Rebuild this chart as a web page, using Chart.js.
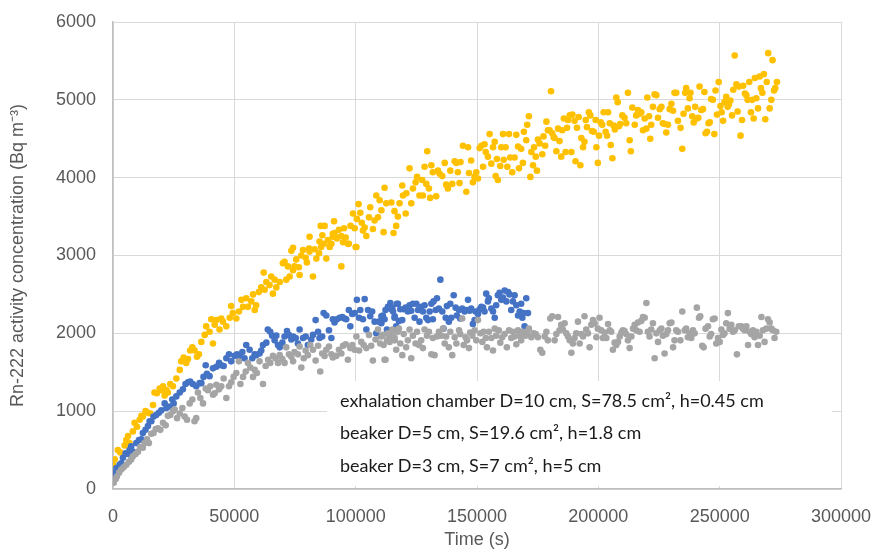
<!DOCTYPE html>
<html>
<head>
<meta charset="utf-8">
<script src="https://cdn.jsdelivr.net/npm/chart.js@4.4.0/dist/chart.umd.min.js"></script>
<style>
  html, body { margin: 0; padding: 0; background: #fff; }
</style>
</head>
<body>
<canvas id="myChart" width="875" height="551"></canvas>
<script>
// [time (s), Rn-222 activity concentration (Bq m-3)]
const chamberPoints = [
  [0,310],[700,380],[2000,500],[3000,470],[4800,560],[5500,630],[6200,680],[6800,590],[8200,740],[8900,850],
  [9900,800],[11000,890],[11700,940],[12300,930],[13400,1000],[14400,980],[15400,970],[16500,1080],[17100,1240],[18100,1230],
  [19200,1290],[19900,1270],[20600,1320],[21300,1200],[22000,1270],[22600,1240],[23600,1350],[24700,1320],[26100,1420],[27500,1530],
  [28100,1640],[29100,1690],[30200,1620],[30900,1670],[31800,1780],[32700,1820],[33600,1780],[34600,1700],[35400,1730],[36400,1890],
  [37800,1980],[38400,2090],[39800,2020],[40500,2180],[41200,1870],[41900,2110],[42600,2170],[43900,2050],[44600,2190],[45300,2150],
  [46700,2090],[48100,2200],[48700,2350],[49400,2260],[50800,2190],[51900,2280],[52900,2430],[53600,2340],[54900,2450],[55600,2340],
  [57000,2410],[57700,2500],[58400,2300],[59000,2360],[60100,2530],[61100,2590],[62100,2780],[62500,2560],[63200,2660],[64500,2620],
  [65200,2730],[65900,2510],[66600,2690],[67300,2590],[68700,2660],[70000,2900],[70700,2920],[71400,2690],[72100,2860],[72800,2730],
  [73500,3060],[74200,2810],[74800,2860],[75500,2950],[76600,2850],[76900,2750],[77600,3000],[78300,3070],[79400,2970],[79900,2910],
  [81000,3050],[82400,2730],[83100,3080],[83800,2960],[84900,3030],[85800,3110],[86800,3150],[87900,2960],[88600,3200],[89300,3120],
  [90600,3240],[91300,3290],[92300,3220],[94100,2860],[94800,3170],[96800,3150],[100300,3110],
  [74200,3100],[81000,3240],[80800,3090],[85100,3180],[85600,3380],[87200,3380],[86300,3260],[89300,3110],[90000,3150],[90600,3280],
  [91100,3440],[92300,3230],[93100,3330],[94100,3250],[95200,3350],[95900,3230],[97200,3150],[97900,3380],[98900,3540],[99600,3350],
  [100000,3110],[100500,3470],[101200,3660],[101900,3550],[102500,3420],[103000,3320],[103700,3360],[104400,3250],[105500,3490],[106000,3620],
  [107100,3340],[107800,3450],[108500,3770],[109200,3490],
  [111500,3300],[115600,3290],[116700,3380],[117400,3500],[120600,3540],[111900,3870],[109900,3710],[110600,3580],[112600,3670],[114700,3680],
  [116000,3570],[118100,3670],[119200,3900],[119500,3770],[120900,3800],[122200,4120],[122900,3670],[123600,3860],[124700,3940],[125300,4010],
  [126300,3770],[127400,3970],[127700,3770],[128400,4140],[129100,3920],[129500,4340],[130200,3860],[130700,3740],[131200,4160],[131800,4070],
  [133200,3760],[133900,4090],[134600,4050],[135700,4020],[136700,4190],[137300,3910],[138000,3860],[139000,4090],[139800,3920],[140800,4210],
  [141500,4190],[142100,4070],[142800,3930],[143200,4200],[144200,4410],[145600,3820],[146300,4390],[146700,4060],[147600,4220],[148300,3940],
  [149000,4010],[149700,4070],[150400,3990],[151100,4380],[151800,4410],[152500,4140],[153100,4430],[153600,4330],[154500,4270],[155200,4560],
  [155900,4180],[156600,4390],[157300,4460],[157700,4020],[158200,4240],[158600,3970],[159600,4150],[160000,4390],[160700,4560],[161000,4230],
  [161800,4390],[162500,4140],[163200,4560],[163700,4260],[164500,4070],[165500,4260],[166200,4550],[166900,4400],[167300,4120],[168200,4370],
  [168900,4190],[169300,4590],[170300,4480],[170700,4680],[171400,4790],[172000,4010],[172400,4330],[173100,4160],[173500,4390],[174200,4270],
  [174700,4090],[175100,4490],[175800,4440],[176900,4300],[177400,4530],[178100,4410],[178600,4720],[179200,4610],[179900,4610],[180500,5110],
  [181000,4570],[181600,4520],[182000,4510],[182700,4340],[183400,4630],[184000,4470],[184700,4270],[185100,4610],[185800,4760],[186500,4330],
  [187100,4640],[187500,4740],[188200,4800],[188900,4330],[189300,4810],[190200,4730],[190600,4210],[191200,4640],[191900,4780],[192600,4160],
  [193000,4510],[193700,4390],[194300,4460],[194800,4740],[195300,4650],[196100,4840],[196700,4800],[197400,4600],[198100,4590],[198900,4740],
  [199200,4390],[199800,4190],[200300,4540],[201000,4710],[201600,4680],[202200,4840],[203000,4590],[203600,4540],[204000,4840],[204700,4700],
  [205100,4420],[205800,4250],[206300,4670],[206800,4620],[207400,5030],[208000,4970],[208500,4660],[209000,4690],[209900,4800],[210800,4770],
  [211500,4700],[212200,5090],[212900,4480],[213400,4340],[214000,4900],[215000,4680],[215600,4800],[216300,4870],[217000,4820],[217700,4840],
  [218400,4610],[219100,4760],[219800,4630],[220200,5030],[220900,4790],[221400,4500],[221800,4680],[222500,4910],[223200,5070],[223900,5060],
  [224600,4770],[225300,4880],[226000,4910],[226600,4700],[227300,4690],[228000,4580],[228700,4680],[229400,4880],[230100,4950],[230800,4860],
  [231400,5090],[232100,5090],[232800,4730],
  [233900,4640],[234600,4370],[235100,4820],[235800,5090],[236200,5150],[236900,4890],[237600,5020],[238000,5090],[238700,4790],[239300,4710],
  [239900,4910],[240600,4760],[241200,4770],[241700,5170],[242400,4870],[243100,4880],[243700,5100],[244200,4570],[244800,4590],[245400,4700],
  [245900,4710],[246500,5010],[247200,5000],[247800,4560],[248300,5120],[248900,4810],[249600,5230],[250300,4920],[250800,4840],[251400,4730],
  [252000,4970],[252700,5040],[253300,4910],[253800,4940],[254400,4990],[255100,4800],[255600,5130],[256200,5570],[256900,5200],[257400,4850],
  [257900,5170],[258600,4540],[259200,4740],[259700,5180],[260400,5080],[261000,5060],[261500,5000],[262200,5230],[262900,4840],[263400,5000],
  [264000,4760],[264500,5280],[265100,5020],[265800,4890],[266500,5300],[267000,5150],[267600,5090],[268200,5330],[268800,4750],[269400,5230],
  [270000,5600],[270600,4890],[271300,5000],[271800,5510],[272400,5120],[272900,5150],[273600,5230]
];

const beaker5Points = [
  [0,140],[700,210],[1400,270],[2700,310],[3400,330],[4100,400],[5200,460],[6200,450],[6800,500],[7500,550],
  [8200,480],[9600,590],[10700,630],[11700,640],[12300,720],[13400,760],[14400,810],[15100,870],[15800,870],[16700,930],
  [17800,950],[18900,980],[19900,1010],[21300,1100],[22000,1040],[23300,1060],[24400,1150],[25000,1100],[26100,1190],[27500,1240],
  [28800,1280],[29900,1350],[30900,1370],[31800,1380],[32900,1350],[34300,1320],[35700,1360],[36400,1360],[37300,1440],[38200,1590],
  [38700,1480],[39800,1450],[41200,1550],[42600,1570],[43700,1620],[44600,1590],[45600,1580],[46700,1680],[47800,1730],[48700,1640],
  [50100,1710],[51100,1730],[52200,1700],[53300,1760],[54200,1680],[54900,1850],[56300,1790],[57400,1680],[58400,1730],[59000,1720],
  [60400,1740],[61100,1780],[61800,1850],[63200,1880],[63800,2050],[64800,2020],[65600,1970],[66600,1910],[67300,1970],[68000,1850],
  [68700,1820],[69800,1880],[70700,1960],[71700,2030],[72500,1980],[73500,1920],[74200,1960],[75300,1940],[76200,1870],[76900,2050],
  [78300,1940],[79400,1960],[80300,1850],[81700,1920],[82400,1980],[83500,2170],[84500,2020],[85100,1940],[86200,1960],[86800,2260],
  [87900,2230],[89000,2040],[90000,1940],[90600,2180],[91300,2140],[92300,2180],[93400,2200],[94500,2210],[95400,2190],[96100,2180],
  [97200,2300],[97800,2090],[98600,2250],[99600,2260],[100500,2430],[101400,2200],[101900,2300],[103000,2180],[103700,2440],[104400,2050],
  [105100,2300],[106000,2220],[106800,2280],[107800,2150],[108500,2000],[109600,2150],[110600,2220],[111200,2190],[112300,2300],[113300,2340],
  [114300,2390],[115100,2330],[116100,2220],[116700,2090],[117400,2380],
  [110600,2130],[111200,2230],[111900,2180],[112900,2050],[113700,2330],[114700,2310],[115400,2280],[116000,2200],[117000,2380],[117800,2160],
  [118400,2310],[119200,2170],[119800,2310],[120600,2330],[121500,2280],[122200,2360],[122900,2290],[123600,2380],[124300,2200],[125000,2380],
  [125700,2300],[126300,2150],[127000,2340],[127700,2280],[128400,2360],[129100,2200],[129800,2170],[130500,2280],[131200,2380],[131800,2180],
  [132100,2410],[133000,2300],[133500,2450],[134300,2320],[134900,2690],[135700,2280],[136200,2060],[137100,2200],[137600,2350],[138400,2150],
  [139000,2380],[139400,2200],[140400,2490],[141200,2330],[141700,2230],[142600,2300],[143100,2190],[143900,2320],[144900,2280],[145600,2300],
  [146300,2430],[147000,2290],[147600,2320],[148300,2120],[149000,2170],[149400,2280],[150400,2250],[151100,2310],[151800,2340],[152500,2330],
  [153100,2280],[153800,2510],[154500,2410],[154900,2450],[155900,2320],[156600,2280],[157300,2200],[157900,2360],[158600,2490],[159300,2520],
  [160000,2430],[160700,2460],[161400,2550],[162100,2410],[162800,2530],[163400,2500],[164100,2300],[164800,2410],[165500,2490],[166200,2360],
  [166900,2230],[167600,2280],[168200,2380],[168700,2200],[169200,2260],[169600,2090],[170300,2450],[171000,2260]
];

const beaker3Points = [
  [300,80],[1100,130],[1600,160],[2500,210],[3400,250],[4400,280],[5500,310],[6600,350],[7500,380],[8200,420],
  [9300,450],[10300,480],[11200,540],[12300,530],[13000,590],[14000,640],[14800,590],[15800,710],[16700,720],[17600,770],
  [18500,780],[19500,760],[20600,850],[21700,820],[22600,940],[23600,950],[24700,1000],[25400,1020],[26400,910],[27500,970],
  [28600,1040],[29500,930],[30500,890],[31600,1100],[32700,1150],[33600,870],[34300,910],[35000,1240],[36000,1170],[37100,1100],
  [38200,1290],[39100,1270],[40100,1320],[41200,1210],[41900,1230],[42600,1340],[43700,1280],[44600,1320],[45600,1420],[46700,1170],
  [47800,1320],[48700,1370],[49700,1440],[50800,1490],[51900,1640],[52500,1350],[53600,1440],[54700,1510],[55600,1620],[56600,1560],
  [57700,1440],[58400,1530],[59300,1490],[60400,1640],[61800,1350],[62900,1580],[63900,1660],[64800,1620],[65900,1710],[67000,1680],
  [68000,1620],[68700,1720],[69800,1670],[70700,1620],[71400,1820],[72500,1730],[73500,1700],[74200,1640],[74800,1760],[76200,1730],
  [76900,1830],[77600,1560],[78600,1680],[79400,1780],[80300,1720],[81300,1850],[82400,1790],[83500,1650],[84500,1840],[85400,1510],
  [86200,1740],[87200,1710],[87900,1790],[89000,1830],[90000,1730],[90600,1690],[92000,1710],[93100,1790],[94100,1740],[94800,1840],
  [95900,1860],[96800,1660],[97800,1810],[98600,1850],[99600,1790],[100300,1960],[101400,1780],[102300,1890],[103300,1850],[104400,1810],
  [105500,1980],[106400,1840],[107100,1650],[108200,1920],[109200,2050],[110100,1870],[111200,1980],[111900,1660],[112900,1910],[114000,1960],
  [115100,2010],[116100,1910],[116700,2040],[117800,2060],
  [110500,1960],[111500,1850],[112300,1660],[113300,2000],[114000,1890],[115100,2050],[116000,1950],[116700,1790],[117400,2020],[118400,1870],
  [119200,1720],[119800,1990],[120800,1820],[121500,1910],[122200,2050],[122900,1680],[123600,1970],[124700,1870],[125300,2020],[126100,1850],
  [127000,1910],[127700,1810],[128400,2050],[129400,1970],[130200,2020],[131200,1730],[131800,1940],[132500,1720],[133500,1960],[134300,2020],
  [135300,1970],[136000,2060],[136700,1870],[137300,1960],[138400,1820],[139000,2020],[139800,1720],[140800,1950],[141500,1870],[142600,2040],
  [143100,1990],[143900,2190],[144500,1850],[145300,1950],[145900,1910],[146700,1810],[147200,2010],[148100,1970],[149000,2040],[149700,1910],
  [150400,2170],[151400,2000],[152200,1890],[152700,2020],[153600,1940],[154100,1820],[154900,2020],[155900,1940],[156600,1780],[157300,2060],
  [157900,1970],[159000,2040],[159600,1880],[160400,1950],[161400,1990],[162300,1820],[163200,2040],[164100,1940],[164800,2020],[165500,1960],
  [166200,1860],[166900,2040],[167600,1970],[168200,1910],[168900,2020],[170000,1970],[170600,2000],[171400,2060],[172400,1950],[173300,2000],
  [174200,1990],[175100,1950],[176100,1790],[176900,1750],[177900,1960],[178600,2020],[179200,1910],[180200,2190],[181000,2220],[182000,1910],
  [182700,1990],[183400,2210],[184000,2040],[184700,2110],[185400,2050],[186100,2130],[186800,2000],[187500,1960],[188200,1910],[188900,1750],
  [189500,1870],[190200,1940],[190900,2000],[191600,2150],[192300,1870],[193000,1990],[193700,1960],[194300,2220],[195000,2050],[195700,2000],
  [196400,1820],[197100,2110],[197800,2170],[198500,2130],[199200,1950],[199800,2060],[200500,2200],[201200,2040],[201900,1940],[202600,2010],
  [203300,1940],[204000,2120],[204700,2040],[205300,2020],[206000,1790],[206700,1880],[207400,1850],[208100,1890],[208800,1960],[209500,2010],
  [210100,2040],[210800,2030],[211500,1990],[212200,1910],[212900,1810],[213600,1960],[214300,2060],[215000,2110],[215600,2040],[216300,2140],
  [217000,2020],[217700,2160],[218400,2210],[219100,2200],[219800,2390],[220400,2020],[221100,1960],[221800,2050],[222500,2130],[223200,1680],
  [223900,2000],[224600,1890],[225300,2040],[226000,2060],[226600,1970],[227300,1740],[228000,1990],[228700,2040],[229400,2130],[230100,2140],
  [230800,1820],[231400,1910],[232100,2040],[232800,2020],
  [233800,1910],[234600,2280],[235600,2040],[236200,2060],[236900,1950],[237600,2000],[238300,1940],[239000,2040],[239700,2000],[240600,2330],
  [241500,2200],[242000,2220],[242800,1840],[243400,1820],[244200,2060],[245200,2090],[245900,1960],[246500,1990],[247200,2180],[247900,2190],
  [248600,1870],[249300,1940],[250000,1890],[250700,2050],[251400,1980],[252000,2000],[252700,2130],[253400,2260],[254100,2060],[254800,2110],
  [255500,2020],[256200,2040],[257100,1730],[257900,2090],[258900,2090],[259600,2060],[260300,2040],[261000,2090],[261700,1850],[262300,2020],
  [263000,1990],[263700,2040],[264400,1950],[265100,2020],[265800,1850],[266500,1970],[267200,2210],[267800,2040],[268500,1890],[269200,2060],
  [269900,2180],[270600,2140],[271300,2060],[271900,2040],[272600,1940],[273300,2020]
];

const seriesNames = [
  'exhalation chamber D=10 cm, S=78.5 cm\u00B2, h=0.45 cm',
  'beaker D=5 cm, S=19.6 cm\u00B2, h=1.8 cm',
  'beaker D=3 cm, S=7 cm\u00B2, h=5 cm'
];
const seriesColors = ['#FFC000', '#4472C4', '#A5A5A5'];
const timeTicks = [0, 50000, 100000, 150000, 200000, 250000, 300000];
const concTicks = [0, 1000, 2000, 3000, 4000, 5000, 6000];

let toXY = (pts) => pts.map(p => ({ x: p[0], y: p[1] }));

// text-only legend in a white box, like the Excel original
let boxLegend = {
    id: 'boxLegend',
    afterDatasetsDraw(chart) {
        let ctx = chart.ctx;
        let area = chart.chartArea;
        let left = area.left + 214;
        let top = area.top + 359;
        ctx.save();
        ctx.fillStyle = '#ffffff';
        ctx.fillRect(left, top, area.right - 9 - left, area.bottom - 3 - top);
        ctx.fillStyle = '#1a1a1a';
        ctx.font = '18px Lato';
        ctx.textBaseline = 'middle';
        seriesNames.forEach((name, i) => {
            ctx.fillText(name, left + 13, top + 20 + i * 32.5);
        });
        ctx.restore();
    }
};

let ctx = document.getElementById('myChart').getContext('2d');
let chart = new Chart(ctx, {
    type: 'scatter',
    data: {
        datasets: [chamberPoints, beaker5Points, beaker3Points].map((pts, i) => ({
            label: seriesNames[i],
            data: toXY(pts),
            backgroundColor: seriesColors[i],
            borderWidth: 0,
            pointRadius: 3.3,
            order: 3 - i
        }))
    },
    options: {
        responsive: false,
        animation: false,
        layout: { padding: { top: 22, right: 34, left: 0, bottom: 0 } },
        plugins: {
            legend: { display: false },
            tooltip: { enabled: false }
        },
        scales: {
            x: {
                type: 'linear',
                min: 0,
                max: 300000,
                afterBuildTicks: (s) => { s.ticks = timeTicks.map(v => ({ value: v })); },
                afterFit: (s) => { s.height = 62; s.paddingLeft = 0; s.paddingRight = 0; },
                grid: { color: '#D9D9D9', drawTicks: false },
                border: { color: '#BFBFBF', width: 1.5 },
                ticks: {
                    color: '#595959',
                    font: { family: 'Liberation Sans', size: 18 },
                    padding: 17,
                    maxRotation: 0,
                    autoSkip: false,
                    callback: (v) => String(v)
                },
                title: {
                    display: true,
                    text: 'Time (s)',
                    color: '#595959',
                    font: { family: 'Liberation Sans', size: 18 },
                    padding: { top: 0, bottom: 0 }
                }
            },
            y: {
                type: 'linear',
                min: 0,
                max: 6000,
                afterBuildTicks: (s) => { s.ticks = concTicks.map(v => ({ value: v })); },
                afterFit: (s) => { s.width = 113; s.paddingTop = 0; s.paddingBottom = 0; },
                grid: { color: '#D9D9D9', drawTicks: false },
                border: { color: '#BFBFBF', width: 1.5 },
                ticks: {
                    color: '#595959',
                    font: { family: 'Liberation Sans', size: 18 },
                    padding: 17,
                    callback: (v) => String(v)
                },
                title: {
                    display: true,
                    text: 'Rn-222 activity concentration (Bq m\u207B\u00B3)',
                    color: '#595959',
                    font: { family: 'Liberation Sans', size: 18 },
                    padding: { top: 7, bottom: 0 }
                }
            }
        }
    },
    plugins: [boxLegend]
});
</script>
</body>
</html>
